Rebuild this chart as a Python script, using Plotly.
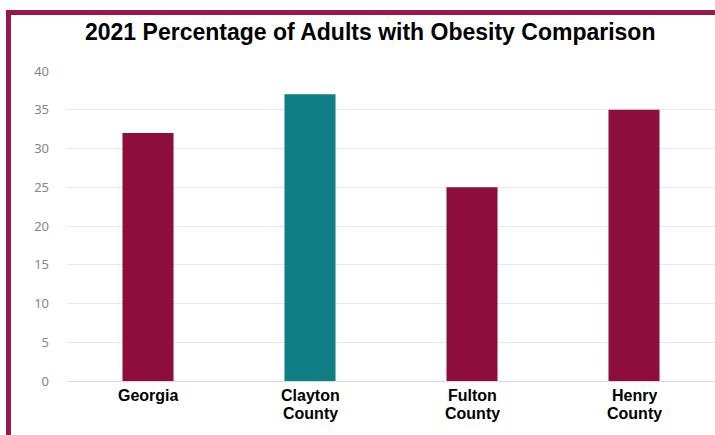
import plotly.graph_objects as go

# Adult obesity rates, 2021 (percent)
categories = ["Georgia", "Clayton County", "Fulton County", "Henry County"]
label_lines = [["Georgia"], ["Clayton", "County"], ["Fulton", "County"], ["Henry", "County"]]
values = [32, 37, 25, 35]
bar_colors = ["#8E0E3B", "#0F7E85", "#8E0E3B", "#8E0E3B"]
y_ticks = [0, 5, 10, 15, 20, 25, 30, 35, 40]

W, H = 715, 435
frame_color = "#9A1847"

fig = go.Figure(
    go.Bar(
        x=categories,
        y=values,
        marker=dict(color=bar_colors, line=dict(width=0)),
        hoverinfo="x+y",
    )
)

fig.update_layout(
    width=W,
    height=H,
    margin=dict(l=0, r=0, t=0, b=0, autoexpand=False),
    paper_bgcolor="white",
    plot_bgcolor="white",
    showlegend=False,
    bargap=0.685,
    xaxis=dict(
        domain=[67 / W, 1.0],
        showgrid=False,
        showline=False,
        ticks="",
        showticklabels=False,
        automargin=False,
    ),
    yaxis=dict(
        domain=[(H - 381) / H, (H - 71) / H],
        range=[0, 40],
        tickvals=y_ticks,
        ticktext=[str(v) for v in y_ticks],
        showgrid=True,
        gridcolor="#e8e8e8",
        gridwidth=1,
        zeroline=True,
        zerolinecolor="#d9d9d9",
        zerolinewidth=1,
        showline=False,
        ticks="",
        tickfont=dict(family="Noto Sans, sans-serif", size=13, color="#858585"),
        ticklabelstandoff=17,
        automargin=False,
    ),
    font=dict(family="Liberation Sans, Arial, sans-serif"),
)

# Category labels, stacked under each bar
line_y = [395, 413]
for cat, lines in zip(categories, label_lines):
    for i, line in enumerate(lines):
        fig.add_annotation(
            text=f"<b>{line}</b>",
            xref="x", yref="paper",
            x=cat, y=1 - line_y[i] / H,
            xanchor="center", yanchor="middle",
            showarrow=False,
            height=17,
            font=dict(family="Liberation Sans, Arial, sans-serif", size=16, color="#000000"),
        )

# Title
fig.add_annotation(
    text="<b>2021 Percentage of Adults with Obesity Comparison</b>",
    xref="paper", yref="paper",
    x=370 / W, y=1 - 32 / H,
    xanchor="center", yanchor="middle",
    showarrow=False,
    font=dict(family="Liberation Sans, Arial, sans-serif", size=23, color="#000000"),
)

# Maroon frame along the top and left edges
fig.add_shape(type="line", xref="paper", yref="paper",
              x0=6 / W, x1=1.0, y0=1 - 12.5 / H, y1=1 - 12.5 / H,
              line=dict(color=frame_color, width=5))
fig.add_shape(type="line", xref="paper", yref="paper",
              x0=8.5 / W, x1=8.5 / W, y0=0, y1=1 - 10 / H,
              line=dict(color=frame_color, width=5))

fig.write_html("out.html")
